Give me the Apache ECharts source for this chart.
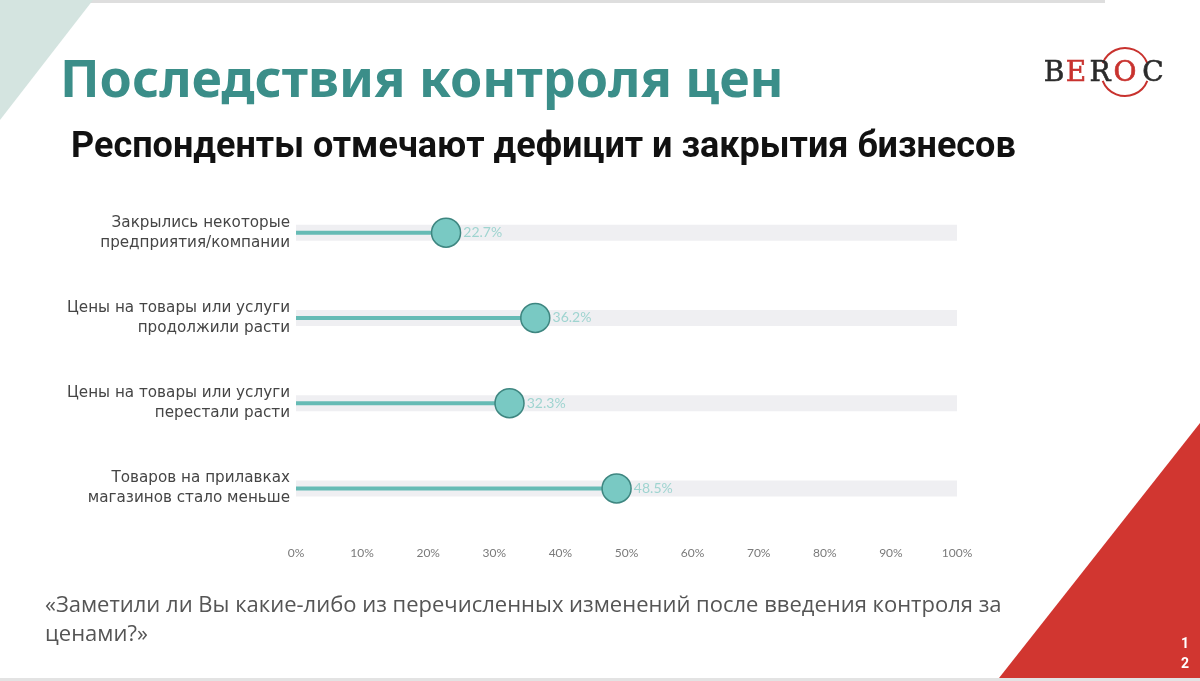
<!DOCTYPE html>
<html><head><meta charset="utf-8">
<script src="https://cdn.jsdelivr.net/npm/echarts@6/dist/echarts.min.js"></script>
<style>html,body{margin:0;padding:0;background:#fff}#c{width:1200px;height:681px}</style>
</head><body><div id="c"></div>
<script>
const categories = [
  'Закрылись некоторые\nпредприятия/компании',
  'Цены на товары или услуги\nпродолжили расти',
  'Цены на товары или услуги\nперестали расти',
  'Товаров на прилавках\nмагазинов стало меньше'
];
const values = [22.7, 36.2, 32.3, 48.5];
const axisMax = 100;
const tickStep = 10;
const titleText = 'Последствия контроля цен';
const subtitleText = 'Респонденты отмечают дефицит и закрытия бизнесов';
const questionText = '«Заметили ли Вы какие-либо из перечисленных изменений после введения контроля за\nценами?»';

const chart = echarts.init(document.getElementById('c'));
const logoLetters = [['B','#2b2b2b',1054],['E','#c8322e',1076],['R','#2b2b2b',1100],['O','#c8322e',1125],['C','#2b2b2b',1153]];

chart.setOption({
  backgroundColor: '#ffffff',
  animation: false,
  grid: {left: 296, right: 243, top: 190, bottom: 150, containLabel: false},
  xAxis: {
    type: 'value', min: 0, max: axisMax, interval: tickStep,
    axisLine: {show: false}, axisTick: {show: false}, splitLine: {show: false},
    axisLabel: {formatter: '{value}%', color: '#7a7a7a', fontSize: 12, fontFamily: 'Lato', margin: 16}
  },
  yAxis: [{
    type: 'category', data: categories, inverse: true,
    axisLine: {show: false}, axisTick: {show: false},
    axisLabel: {color: '#454545', fontSize: 15.2, fontFamily: 'DejaVu Sans', lineHeight: 20, margin: 6, align: 'right'}
  }, {
    type: 'category', data: categories, inverse: true, show: false
  }],
  series: [
    {
      type: 'bar', yAxisIndex: 1, data: categories.map(() => axisMax), barWidth: 16,
      itemStyle: {color: '#efeff2'}, silent: true, z: 1
    },
    {
      type: 'bar', yAxisIndex: 0, data: values, barWidth: 4,
      itemStyle: {color: '#66bbb5'}, z: 2
    },
    {
      type: 'scatter', yAxisIndex: 0, data: values.map((v, i) => [v, categories[i]]),
      symbolSize: 29, z: 3,
      itemStyle: {color: '#79c9c3', borderColor: '#3e8680', borderWidth: 1.5, opacity: 1},
      label: {show: true, position: 'right', distance: 2, color: '#9fd4d0', fontSize: 14, fontFamily: 'Lato',
        formatter: p => p.value[0].toFixed(1) + '%'}
    }
  ],
  graphic: [
    {type: 'rect', shape: {x: 0, y: 0, width: 1105, height: 3}, style: {fill: '#dedede'}, silent: true},
    {type: 'rect', shape: {x: 0, y: 678, width: 1200, height: 3}, style: {fill: '#e3e3e3'}, silent: true},
    {type: 'polygon', shape: {points: [[0, 0], [93, 0], [0, 120]]}, style: {fill: '#d4e4e0'}, silent: true},
    {type: 'polygon', shape: {points: [[1200, 423], [1200, 678], [999, 678]]}, style: {fill: '#d13630'}, silent: true},
    {type: 'text', left: 1181, top: 634, style: {text: '1\n2', fill: '#ffffff', fontSize: 14, fontWeight: 'bold', fontFamily: 'Roboto', lineHeight: 20, align: 'center'}, silent: true},
    {type: 'text', left: 60, top: 56, style: {text: titleText, fill: '#3b8e89', fontSize: 52, fontWeight: 'bold', fontFamily: 'Noto Sans'}, silent: true},
    {type: 'text', left: 71, top: 130, style: {text: subtitleText, fill: '#111111', fontSize: 36, fontWeight: 'bold', fontFamily: 'Roboto'}, silent: true},
    {type: 'text', left: 45, top: 591, style: {text: questionText, fill: '#555555', fontSize: 22, fontFamily: 'Open Sans', lineHeight: 29}, silent: true},
    {type: 'arc', shape: {cx: 1125, cy: 72, r: 24, startAngle: Math.PI * 1.12, endAngle: Math.PI * 1.88}, style: {stroke: '#c8322e', lineWidth: 2, fill: null}, silent: true},
    {type: 'arc', shape: {cx: 1125, cy: 72, r: 24, startAngle: Math.PI * 0.12, endAngle: Math.PI * 0.88}, style: {stroke: '#c8322e', lineWidth: 2, fill: null}, silent: true}
  ].concat(logoLetters.map(([ch, col, x]) => ({
    type: 'text', x: x, y: 74, style: {text: ch, fill: col, fontSize: 28, fontFamily: 'DejaVu Serif', stroke: col, lineWidth: 0.6, align: 'center', verticalAlign: 'middle'}, silent: true
  })))
});
</script></body></html>
